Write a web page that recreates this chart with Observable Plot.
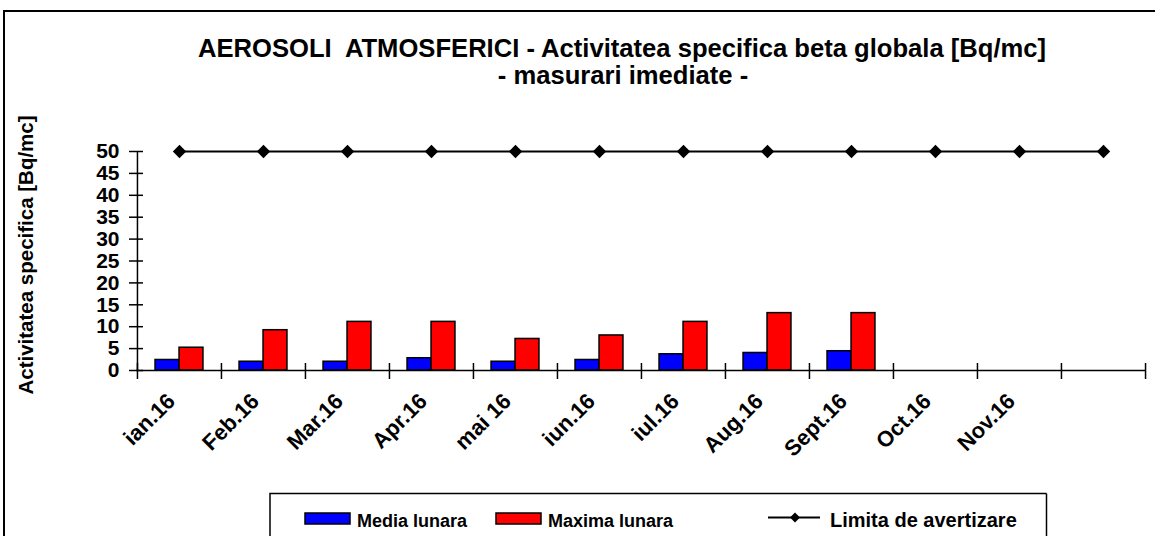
<!DOCTYPE html>
<html>
<head>
<meta charset="utf-8">
<script src="https://cdn.jsdelivr.net/npm/d3@7"></script>
<script src="https://cdn.jsdelivr.net/npm/@observablehq/plot@0.6"></script>
<style>
  html, body { margin: 0; padding: 0; background: #fff; overflow: hidden; }
  #wrap { position: relative; width: 1155px; height: 536px; overflow: hidden; }
  #chart, #overlay { position: absolute; left: 0; top: 0; }
  #overlay { pointer-events: none; }
  text { font-family: "Liberation Sans", Arial, sans-serif; font-weight: bold; }
  .pre { white-space: pre; }
</style>
</head>
<body>
<div id="wrap">
  <div id="chart"></div>
  <svg id="overlay" width="1155" height="536" xmlns="http://www.w3.org/2000/svg">
    <rect x="4" y="11" width="1200" height="600" fill="none" stroke="#000" stroke-width="2"></rect>
    <text class="pre" x="622" y="56.5" text-anchor="middle" font-size="25.6" fill="#000">AEROSOLI  ATMOSFERICI - Activitatea specifica beta globala [Bq/mc]</text>
    <text x="623" y="84" text-anchor="middle" font-size="25.6" fill="#000">- masurari imediate -</text>
    <text transform="translate(33,255) rotate(-90)" text-anchor="middle" font-size="20.5" fill="#000">Activitatea specifica [Bq/mc]</text>
    <rect x="270" y="493.5" width="900" height="100" fill="#fff" stroke="#000" stroke-width="1.5"></rect>
    <rect x="1046.5" y="480" width="200" height="100" fill="#fff" stroke="none"></rect>
    <line x1="1046.5" y1="493.5" x2="1046.5" y2="540" stroke="#000" stroke-width="1.5"></line>
    <g id="legend"></g>
  </svg>
</div>
<script>
// ---- data ----
const months = ["ian.16", "Feb.16", "Mar.16", "Apr.16", "mai 16", "iun.16", "iul.16", "Aug.16", "Sept.16", "Oct.16", "Nov.16", ""];
const mediaLunara  = [2.4, 2.0, 2.0, 2.8, 2.0, 2.4, 3.7, 4.0, 4.4];
const maximaLunara = [5.2, 9.2, 11.1, 11.1, 7.2, 8.0, 11.1, 13.1, 13.1];
const limitaAvertizare = [50, 50, 50, 50, 50, 50, 50, 50, 50, 50, 50, 50];
const yTicks = [0, 5, 10, 15, 20, 25, 30, 35, 40, 45, 50];
const seriesNames = ["Media lunara", "Maxima lunara", "Limita de avertizare"];
const seriesColors = ["#0000ff", "#ff0000", "#000000"];

// ---- tables ----
const mediaData = mediaLunara.map((v, i) => ({month: months[i], value: v}));
const maxData = maximaLunara.map((v, i) => ({month: months[i], value: v}));
const limData = limitaAvertizare.map((v, i) => ({month: months[i], value: v}));

const W = 1155, H = 536;
const mL = 136, mR = 10, mT = 151, mB = 166;
const bw = (W - mL - mR) / months.length;
const barW = 24;
const font = "Liberation Sans, Arial, sans-serif";

const chart = Plot.plot({
  width: W, height: H,
  marginLeft: mL, marginRight: mR, marginTop: mT, marginBottom: mB,
  x: {domain: months, padding: 0, axis: null},
  y: {domain: [0, 50], axis: null},
  style: {fontFamily: font, background: "transparent", color: "#000"},
  marks: [
    Plot.barY(mediaData, {x: "month", y: "value", fill: seriesColors[0], stroke: "#000", strokeWidth: 1.5,
      insetLeft: bw / 2 - barW, insetRight: bw / 2}),
    Plot.barY(maxData, {x: "month", y: "value", fill: seriesColors[1], stroke: "#000", strokeWidth: 1.5,
      insetLeft: bw / 2, insetRight: bw / 2 - barW}),
    // x axis line and crossing ticks at band boundaries
    Plot.ruleY([0], {stroke: "#000", strokeWidth: 1.5}),
    Plot.axisX(months, {tickSize: 16, dy: -7, dx: -bw / 2, tickFormat: () => "", label: null, strokeWidth: 1.5}),
    Plot.axisX([months[months.length - 1]], {tickSize: 16, dy: -7, dx: bw / 2, tickFormat: () => "", label: null, strokeWidth: 1.5}),
    Plot.text(months, {x: d => d, frameAnchor: "bottom", rotate: -45, textAnchor: "end", lineAnchor: "middle",
      dx: -8, dy: 27, fontSize: 22, fontWeight: "bold", fill: "#000"}),
    // y axis line, crossing ticks and labels
    Plot.ruleX([months[0]], {dx: -bw / 2, stroke: "#000", strokeWidth: 1.5}),
    Plot.axisY(yTicks, {tickSize: 14, dx: 7, tickFormat: () => "", label: null, strokeWidth: 1.5}),
    Plot.axisY(yTicks, {tickSize: 0, tickPadding: 17, label: null, fontSize: 21, fontWeight: "bold", fill: "#000"}),
    // warning limit line
    Plot.lineY(limData, {x: "month", y: "value", stroke: seriesColors[2], strokeWidth: 2}),
    Plot.dot(limData, {x: "month", y: "value", symbol: "diamond2", r: 6, fill: seriesColors[2], stroke: "none"})
  ]
});
document.getElementById("chart").appendChild(chart);

// ---- legend ----
const ns = "http://www.w3.org/2000/svg";
const lg = document.getElementById("legend");
function el(tag, attrs, text) {
  const e = document.createElementNS(ns, tag);
  for (const k in attrs) e.setAttribute(k, attrs[k]);
  if (text != null) e.textContent = text;
  lg.appendChild(e);
  return e;
}
const legendX = [305, 496, 768];
const legendTextX = [357, 548, 830];
// bar swatches
for (let i = 0; i < 2; i++) {
  el("rect", {x: legendX[i], y: 513, width: 45, height: 11, fill: seriesColors[i], stroke: "#000", "stroke-width": 1.5});
}
// line swatch
el("line", {x1: legendX[2], y1: 517.5, x2: legendX[2] + 52, y2: 517.5, stroke: "#000", "stroke-width": 2});
el("path", {d: `M${legendX[2] + 27},512.5 l5,5 l-5,5 l-5,-5 z`, fill: "#000"});
const legendSize = [18, 18, 20];
for (let i = 0; i < 3; i++) {
  el("text", {x: legendTextX[i], y: 527, "font-size": legendSize[i], fill: "#000"}, seriesNames[i]);
}
</script>
</body>
</html>
